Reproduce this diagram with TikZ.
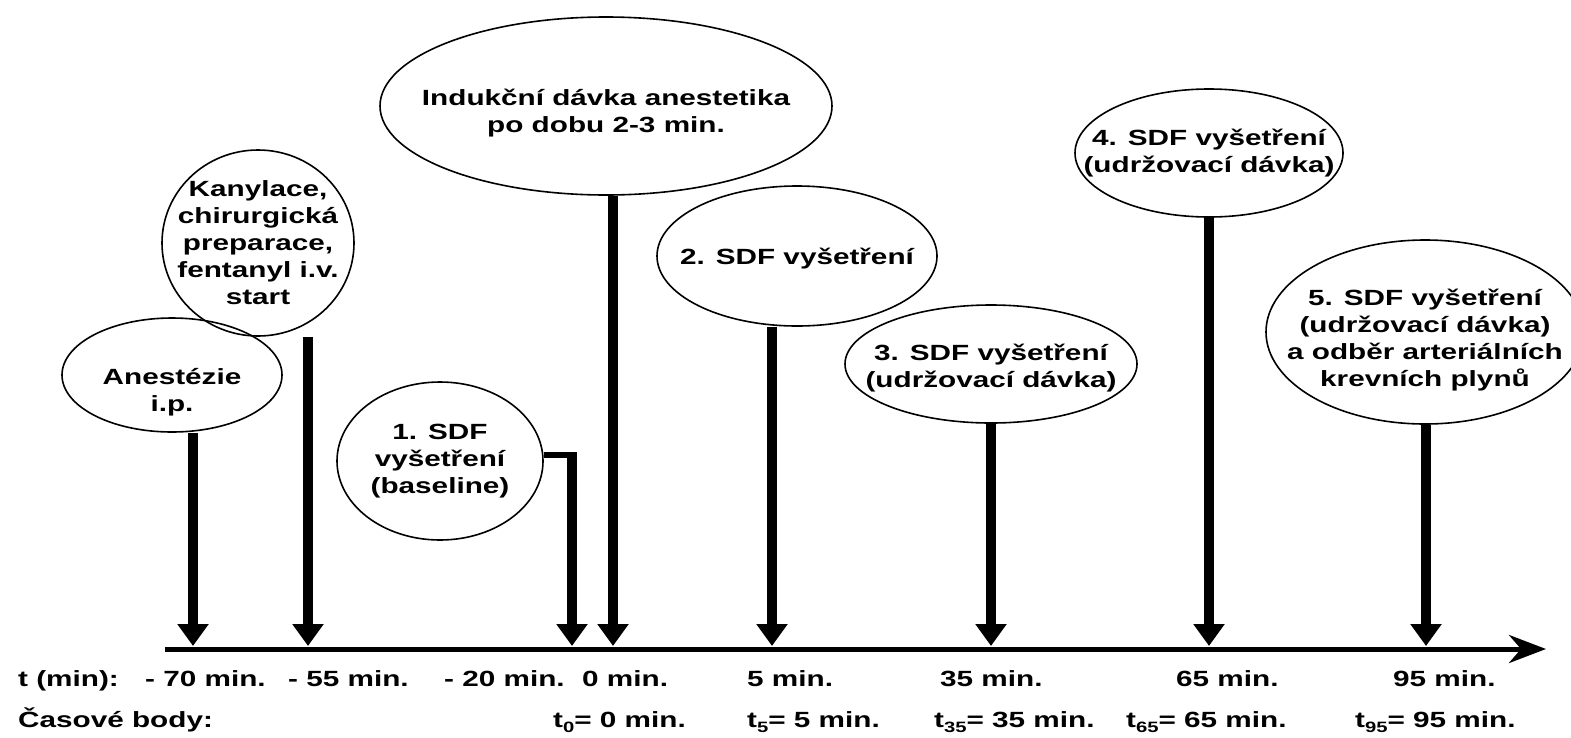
\documentclass[tikz,border=0pt]{standalone}
\usepackage{fontspec}
\setmainfont{Liberation Sans}[FakeStretch=1.35]
\usetikzlibrary{arrows.meta,shapes.geometric}
\newcommand{\sbs}[1]{\raisebox{-5pt}{\fontsize{15}{15}\selectfont #1}}
\begin{document}
\begin{tikzpicture}[x=1pt,y=-1pt,
  ell/.style={ellipse,draw,line width=1.6pt,inner sep=0pt},
  txt/.style={align=center,font=\fontsize{22}{27}\selectfont\bfseries,inner sep=0pt},
  lab/.style={anchor=base west,font=\fontsize{22}{27}\selectfont\bfseries,inner sep=0pt},
  arr/.style={line width=10pt,-{Triangle[length=22pt,width=30pt]}},
  axisline/.style={line width=5pt,-{Stealth[length=37pt,width=28pt,inset=12pt]}}]
\useasboundingbox (0,0) rectangle (1571,737);
% axis
\coordinate (axL) at (165,649);
\coordinate (axR) at (1546,649);
\draw[axisline] (axL) -- (axR);
% tick targets
\coordinate (t1) at (193,646);
\coordinate (t2) at (308,646);
\coordinate (t3) at (572,646);
\coordinate (t4) at (613,646);
\coordinate (t5) at (772,646);
\coordinate (t6) at (991,646);
\coordinate (t7) at (1209,646);
\coordinate (t8) at (1426,646);
% ellipses
\node[ell,minimum width=192pt,minimum height=186pt] (e2) at (258,243) {};
\node[ell,minimum width=220pt,minimum height=114pt] (e1) at (172,375) {};
\node[ell,minimum width=206pt,minimum height=158pt] (e3) at (440,461) {};
\node[ell,minimum width=452pt,minimum height=178pt] (e4) at (606,106) {};
\node[ell,minimum width=280pt,minimum height=140pt] (e5) at (797,256) {};
\node[ell,minimum width=292pt,minimum height=118pt] (e6) at (991,364) {};
\node[ell,minimum width=268pt,minimum height=128pt] (e7) at (1209,153) {};
\node[ell,minimum width=318pt,minimum height=184pt] (e8) at (1425,332) {};
% texts
\node[txt] (l1) at ([yshift=-17pt]e1.center) {Anestézie\\i.p.};
\node[txt] (l2) at (e2) {Kanylace,\\chirurgická\\preparace,\\fentanyl i.v.\\start};
\node[txt] (l3) at (e3) {1. SDF\\vyšetření\\(baseline)};
\node[txt] (l4) at ([yshift=-7pt]e4.center) {Indukční dávka anestetika\\po dobu 2-3 min.};
\node[txt] (l5) at ([yshift=-3pt]e5.center) {2. SDF vyšetření};
\node[txt] (l6) at ([yshift=-4pt]e6.center) {3. SDF vyšetření\\(udržovací dávka)};
\node[txt] (l7) at (e7) {4. SDF vyšetření\\(udržovací dávka)};
\node[txt] (l8) at ([yshift=-8pt]e8.center) {5. SDF vyšetření\\(udržovací dávka)\\a odběr arteriálních\\krevních plynů};
% connectors
\draw[arr] (e1.south -| t1) -- (t1);
\draw[arr] (e2.south -| t2) -- (t2);
\coordinate (c3) at (577,455);
\draw[line width=6pt] (e3.east |- c3) -- (c3);
\draw[arr] ([yshift=-3pt]c3 -| t3) -- (t3);
\draw[arr] (e4.south -| t4) -- (t4);
\draw[arr] (e5.south -| t5) -- (t5);
\draw[arr] (e6.south -| t6) -- (t6);
\draw[arr] (e7.south -| t7) -- (t7);
\draw[arr] (e8.south -| t8) -- (t8);
% bottom labels
\node[lab] (r0) at (18,686) {t (min):};
\node[lab] (r1) at (145,686) {- 70 min.};
\node[lab] (r2) at (288,686) {- 55 min.};
\node[lab] (r3) at (444,686) {- 20 min.};
\node[lab] (r4) at (582,686) {0 min.};
\node[lab] (r5) at (747,686) {5 min.};
\node[lab] (r6) at (940,686) {35 min.};
\node[lab] (r7) at (1176,686) {65 min.};
\node[lab] (r8) at (1393,686) {95 min.};
\node[lab] (s0) at (18,727) {Časové body:};
\node[lab] (s4) at (553,727) {t\sbs{0}= 0 min.};
\node[lab] (s5) at (747,727) {t\sbs{5}= 5 min.};
\node[lab] (s6) at (934,727) {t\sbs{35}= 35 min.};
\node[lab] (s7) at (1126,727) {t\sbs{65}= 65 min.};
\node[lab] (s8) at (1355,727) {t\sbs{95}= 95 min.};
\end{tikzpicture}
\end{document}
